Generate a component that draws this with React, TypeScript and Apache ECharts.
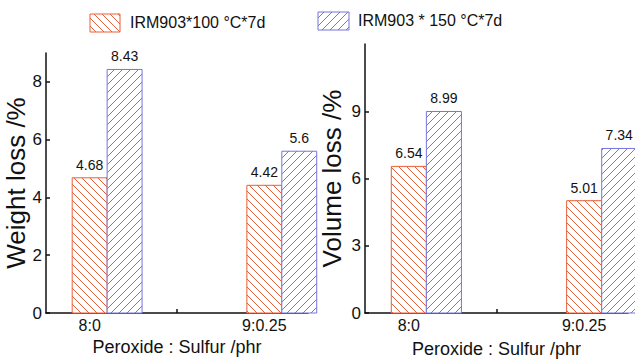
import React, { useEffect, useRef } from 'react';
import * as echarts from 'echarts';

const categories = ['8:0', '9:0.25'];
const categoryPositions = [1, 2];
const seriesNames = ['IRM903*100 °C*7d', 'IRM903 * 150 °C*7d'];
const weightLoss100 = [4.68, 4.42];
const weightLoss150 = [8.43, 5.6];
const volumeLoss100 = [6.54, 5.01];
const volumeLoss150 = [8.99, 7.34];
const weightTicks = [0, 2, 4, 6, 8];
const volumeTicks = [0, 3, 6, 9];
const xTickPositions = [1, 1.5, 2];

const FONT = '"Liberation Sans", Arial, Helvetica, sans-serif';
const ORANGE = 'rgb(232,96,58)';
const BLUE = 'rgb(117,117,224)';
const BAR_HALF = 0.1;
const SERIES_OFFSETS = [0, 0.2];
const HATCH_STEP = 8;

// hatch segments clipped to a rectangle (forward = "/", otherwise "\")
function hatchSegments(x: number, y: number, w: number, h: number, forward: boolean) {
  const segs: number[][] = [];
  const step = HATCH_STEP;
  if (forward) {
    const cMin = Math.ceil((x + y) / step) * step;
    for (let c = cMin; c < x + w + y + h; c += step) {
      const lo = Math.max(x, c - (y + h));
      const hi = Math.min(x + w, c - y);
      if (hi - lo > 0.3) segs.push([lo, c - lo, hi, c - hi]);
    }
  } else {
    const cMin = Math.ceil((x - (y + h)) / step) * step;
    for (let c = cMin; c < x + w - y; c += step) {
      const lo = Math.max(x, y + c);
      const hi = Math.min(x + w, y + h + c);
      if (hi - lo > 0.3) segs.push([lo, lo - c, hi, hi - c]);
    }
  }
  return segs;
}

function hatchedBox(x: number, y: number, w: number, h: number, forward: boolean, color: string, label?: string) {
  const children: any[] = [];
  const bg: any = { type: 'rect', shape: { x, y, width: w, height: h }, style: { fill: '#ffffff', lineWidth: 0 } };
  if (label != null) {
    bg.textContent = { style: { text: label, fontSize: 14, fill: '#111', fontFamily: FONT } };
    bg.textConfig = { position: 'top', distance: 6 };
  }
  children.push(bg);
  hatchSegments(x, y, w, h, forward).forEach((s) => {
    children.push({ type: 'line', shape: { x1: s[0], y1: s[1], x2: s[2], y2: s[3] }, style: { stroke: color, lineWidth: 1, opacity: 1 } });
  });
  children.push({ type: 'rect', shape: { x, y, width: w, height: h }, style: { fill: 'transparent', stroke: color, lineWidth: 1 } });
  return { type: 'group', children };
}

export default function App() {
  const ref = useRef<HTMLDivElement>(null);
  useEffect(() => {
    if (!ref.current) return;
    const chart = echarts.init(ref.current, null, { renderer: 'svg' });

    const makeRender = (offset: number, forward: boolean, color: string) => (params: any, api: any) => {
      const x = api.value(0) + offset;
      const y = api.value(1);
      const p0 = api.coord([x - BAR_HALF, 0]);
      const p1 = api.coord([x + BAR_HALF, y]);
      return hatchedBox(p0[0], p1[1], p1[0] - p0[0], p0[1] - p1[1], forward, color, String(y));
    };

    const xAxisBase = (gridIndex: number, nameGap: number) => ({
      type: 'value',
      gridIndex,
      min: 0.75,
      max: 2.25,
      name: 'Peroxide : Sulfur /phr',
      nameLocation: 'middle',
      nameGap,
      nameTextStyle: { fontSize: 18, color: '#111', fontFamily: FONT },
      splitLine: { show: false },
      axisLine: { lineStyle: { color: '#111', width: 1.5 } },
      axisTick: { inside: true, length: 4, customValues: xTickPositions, lineStyle: { color: '#111', width: 1.5 } },
      axisLabel: {
        customValues: categoryPositions,
        formatter: (v: number) => categories[categoryPositions.indexOf(Math.round(v))] ?? '',
        fontSize: 16,
        color: '#111',
        fontFamily: FONT,
        margin: 4,
      },
    });

    const yAxisBase = (gridIndex: number, max: number, ticks: number[], name: string, nameGap: number) => ({
      type: 'value',
      gridIndex,
      min: 0,
      max,
      name,
      nameLocation: 'middle',
      nameGap,
      nameRotate: 90,
      nameTextStyle: { fontSize: 26, color: '#111', fontFamily: FONT },
      splitLine: { show: false },
      axisLine: { show: true, lineStyle: { color: '#111', width: 1.5 } },
      axisTick: { show: true, inside: true, length: 4, customValues: ticks, lineStyle: { color: '#111', width: 1.5 } },
      axisLabel: { customValues: ticks, fontSize: 17, color: '#111', fontFamily: FONT, margin: 4 },
    });

    const series: any[] = [];
    const addPair = (idx: number, a: number[], b: number[]) => {
      [a, b].forEach((vals, s) => {
        series.push({
          type: 'custom',
          name: seriesNames[s],
          xAxisIndex: idx,
          yAxisIndex: idx,
          clip: false,
          renderItem: makeRender(SERIES_OFFSETS[s], s === 1, s === 0 ? ORANGE : BLUE),
          encode: { x: 0, y: 1 },
          data: categoryPositions.map((p, i) => [p, vals[i]]),
        });
      });
    };
    addPair(0, weightLoss100, weightLoss150);
    addPair(1, volumeLoss100, volumeLoss150);

    chart.setOption({
      animation: false,
      grid: [
        { left: 46, top: 53, width: 262, height: 260 },
        { left: 365, top: 44, width: 263, height: 270 },
      ],
      xAxis: [xAxisBase(0, 21), xAxisBase(1, 27)],
      yAxis: [
        yAxisBase(0, 9, weightTicks, 'Weight loss /%', 12),
        yAxisBase(1, 12, volumeTicks, 'Volume loss /%', 20),
      ],
      graphic: [
        hatchedBox(90, 14, 30, 18, false, ORANGE),
        { type: 'text', left: 130, top: 14, style: { text: seriesNames[0], fontSize: 16, fill: '#111', fontFamily: FONT } },
        hatchedBox(318, 12, 31, 18, true, BLUE),
        { type: 'text', left: 358, top: 12, style: { text: seriesNames[1], fontSize: 16, fill: '#111', fontFamily: FONT } },
      ],
      series,
    });
    return () => chart.dispose();
  }, []);
  return <div ref={ref} style={{ position: 'absolute', left: 0, top: 0, width: 635, height: 363, background: '#fff' }} />;
}
